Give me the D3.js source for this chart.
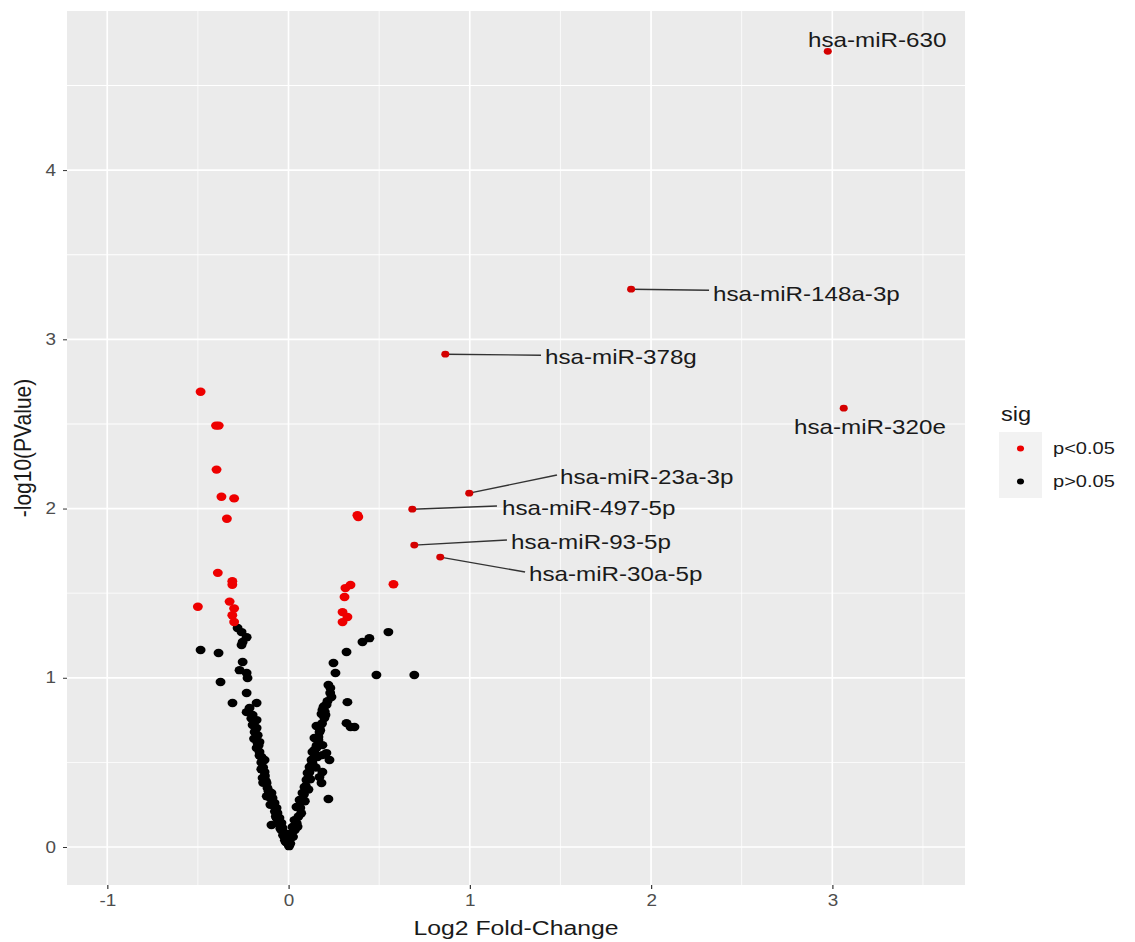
<!DOCTYPE html>
<html>
<head>
<meta charset="utf-8">
<style>
  body { margin: 0; background: #fff; }
  svg { display: block; font-family: "Liberation Sans", Arial, sans-serif; }
</style>
</head>
<body>
<script src="https://cdn.jsdelivr.net/npm/d3@7/dist/d3.min.js"></script>
<script>
// significant points (p<0.05)
var sigX = [-0.485,-0.40,-0.385,-0.397,-0.37,-0.30,-0.34,-0.39,-0.31,-0.31,-0.325,-0.50,-0.30,-0.31,-0.30,
            0.38,0.385,0.342,0.314,0.309,0.579,0.298,0.325,0.298];
var sigY = [2.69,2.49,2.49,2.23,2.07,2.06,1.94,1.62,1.57,1.55,1.45,1.42,1.41,1.37,1.33,
            1.96,1.95,1.548,1.530,1.477,1.553,1.388,1.359,1.329];

// non significant points (p>0.05)
var nsX = [0.551,0.446,0.408,0.320,0.248,0.259,0.485,0.694,0.220,0.231,0.237,0.215,0.193,0.325,0.182,0.198,
           0.320,0.342,0.364,0.154,0.171,0.171,0.143,0.165,0.187,0.154,0.132,0.209,0.226,0.127,0.116,0.105,
           0.099,0.088,0.077,0.061,0.044,0.033,0.022,0.017,0.006,0.171,0.182,0.220,0.187,0.187,0.143,0.160,
           0.132,0.204,0.187,0.198,0.12,0.09,0.05,0.15,0.07,0.11,
           0.01,0.025,0.035,0.045,0.055,0.065,0.075,0.085,0.095,0.105,0.115,0.125,0.135,0.145,0.155,0.165,
           0.175,0.185,0.20,0.21,0.23,
           -0.281,-0.259,-0.231,-0.253,-0.259,-0.485,-0.386,-0.253,-0.270,-0.231,-0.226,-0.375,-0.231,-0.309,
           -0.176,-0.215,-0.231,-0.198,-0.176,-0.198,-0.176,-0.187,-0.171,-0.176,-0.160,-0.149,-0.132,-0.132,
           -0.143,-0.121,-0.116,-0.094,-0.088,-0.077,-0.066,-0.061,-0.050,-0.039,-0.033,-0.022,-0.011,-0.006,
           0.003,-0.094,-0.15,-0.12,-0.07,-0.04,-0.02,-0.10,-0.14,-0.16,-0.19,
           -0.16,-0.15,-0.14,-0.13,-0.125,-0.11,-0.10,-0.085,-0.075,-0.065,-0.055,-0.045,-0.03,-0.015,
           -0.17,-0.18,-0.165,-0.205,-0.19];
var nsY = [1.270,1.234,1.211,1.152,1.087,1.028,1.016,1.016,0.957,0.939,0.886,0.862,0.827,0.856,0.786,0.762,
           0.732,0.709,0.709,0.715,0.709,0.679,0.644,0.632,0.602,0.585,0.561,0.555,0.514,0.514,0.473,0.437,
           0.396,0.354,0.319,0.278,0.236,0.159,0.118,0.083,0.041,0.413,0.378,0.284,0.443,0.543,0.573,0.532,
           0.496,0.780,0.809,0.833,0.40,0.27,0.12,0.47,0.20,0.34,
           0.02,0.06,0.10,0.14,0.18,0.23,0.27,0.31,0.36,0.40,0.44,0.48,0.52,0.55,0.60,0.65,
           0.69,0.73,0.80,0.84,0.91,
           1.294,1.270,1.240,1.211,1.193,1.164,1.146,1.093,1.045,1.028,0.998,0.975,0.910,0.851,
           0.851,0.821,0.797,0.780,0.750,0.721,0.703,0.679,0.614,0.585,0.561,0.532,0.514,0.443,
           0.408,0.378,0.348,0.319,0.289,0.260,0.230,0.201,0.171,0.142,0.112,0.083,0.053,0.024,
           0.005,0.130,0.46,0.30,0.18,0.10,0.04,0.25,0.38,0.62,0.64,
           0.54,0.50,0.47,0.42,0.39,0.33,0.29,0.25,0.21,0.17,0.14,0.11,0.07,0.03,
           0.66,0.70,0.60,0.76,0.74];

// labelled miRNAs
var labName = ["hsa-miR-630","hsa-miR-148a-3p","hsa-miR-378g","hsa-miR-320e",
               "hsa-miR-23a-3p","hsa-miR-497-5p","hsa-miR-93-5p","hsa-miR-30a-5p"];
var labX = [2.975,1.890,0.865,3.063,0.997,0.683,0.694,0.837];
var labY = [4.702,3.296,2.912,2.593,2.091,1.996,1.784,1.713];
// where the text sits (data units, left edge / middle)
var textX = [2.866,2.342,1.415,2.789,1.498,1.178,1.228,1.327];
var textY = [4.768,3.267,2.895,2.482,2.186,2.003,1.802,1.613];
// where the connecting segment ends (null = no segment)
var segX = [null,2.320,1.393,null,1.481,1.150,1.205,1.305];
var segY = [null,3.290,2.906,null,2.198,2.015,1.814,1.625];

var xTicks = [-1,0,1,2,3];
var yTicks = [0,1,2,3,4];
var xMinor = [-0.5,0.5,1.5,2.5,3.5];
var yMinor = [0.5,1.5,2.5,3.5,4.5];
var legendLabels = ["p<0.05","p>0.05"];
var legendColors = ["#ee0000","#000000"];

var width = 1135, height = 942;
var S = 1.18; // the picture is stretched horizontally
var vw = width / S;

var svg = d3.select("body").append("svg")
    .attr("width", width)
    .attr("height", height)
    .attr("viewBox", "0 0 " + vw + " " + height)
    .attr("preserveAspectRatio", "none");

var panel = {left: 67 / S, right: 965 / S, top: 11, bottom: 885};

var x = d3.scaleLinear().domain([-1.222, 3.732]).range([panel.left, panel.right]);
var y = d3.scaleLinear().domain([-0.2245, 4.94]).range([panel.bottom, panel.top]);

svg.append("rect")
    .attr("x", panel.left).attr("y", panel.top)
    .attr("width", panel.right - panel.left)
    .attr("height", panel.bottom - panel.top)
    .attr("fill", "#ebebeb");

// grid
svg.selectAll(".xminor").data(xMinor).enter().append("line")
    .attr("x1", d => x(d)).attr("x2", d => x(d))
    .attr("y1", panel.top).attr("y2", panel.bottom)
    .attr("stroke", "#fff").attr("stroke-width", 0.7);
svg.selectAll(".yminor").data(yMinor).enter().append("line")
    .attr("x1", panel.left).attr("x2", panel.right)
    .attr("y1", d => y(d)).attr("y2", d => y(d))
    .attr("stroke", "#fff").attr("stroke-width", 0.9);
svg.selectAll(".xmajor").data(xTicks).enter().append("line")
    .attr("x1", d => x(d)).attr("x2", d => x(d))
    .attr("y1", panel.top).attr("y2", panel.bottom)
    .attr("stroke", "#fff").attr("stroke-width", 1.4);
svg.selectAll(".ymajor").data(yTicks).enter().append("line")
    .attr("x1", panel.left).attr("x2", panel.right)
    .attr("y1", d => y(d)).attr("y2", d => y(d))
    .attr("stroke", "#fff").attr("stroke-width", 1.7);

// axes
var xAxis = svg.append("g")
    .attr("transform", "translate(0," + panel.bottom + ")")
    .call(d3.axisBottom(x).tickValues(xTicks).tickSize(4).tickPadding(6).tickFormat(d => String(d)));
var yAxis = svg.append("g")
    .attr("transform", "translate(" + panel.left + ",0)")
    .call(d3.axisLeft(y).tickValues(yTicks).tickSize(4 / S).tickPadding(6).tickFormat(d => String(d)));
[xAxis, yAxis].forEach(function(g) {
  g.select(".domain").remove();
  g.selectAll(".tick line").attr("stroke", "#333").attr("stroke-width", 1);
  g.selectAll(".tick text").attr("fill", "#4d4d4d").attr("font-size", "16px")
    .attr("font-family", "'Liberation Sans', Arial, sans-serif");
});

// points
var ns = nsX.map((d, i) => [d, nsY[i]]);
var sg = sigX.map((d, i) => [d, sigY[i]]);

svg.selectAll(".ns").data(ns).enter().append("circle")
    .attr("cx", d => x(d[0])).attr("cy", d => y(d[1])).attr("r", 4.2)
    .attr("fill", "#000");
svg.selectAll(".sg").data(sg).enter().append("circle")
    .attr("cx", d => x(d[0])).attr("cy", d => y(d[1])).attr("r", 4.2)
    .attr("fill", "#ee0000");

// label segments
svg.selectAll(".seg").data(labName).enter().filter((d, i) => segX[i] !== null).append("line")
    .attr("x1", d => x(labX[labName.indexOf(d)]))
    .attr("y1", d => y(labY[labName.indexOf(d)]))
    .attr("x2", d => x(segX[labName.indexOf(d)]))
    .attr("y2", d => y(segY[labName.indexOf(d)]))
    .attr("stroke", "#333").attr("stroke-width", 1.4);

svg.selectAll(".lp").data(labName).enter().append("circle")
    .attr("cx", (d, i) => x(labX[i])).attr("cy", (d, i) => y(labY[i])).attr("r", 3.4)
    .attr("fill", "#d40000");

svg.selectAll(".lt").data(labName).enter().append("text")
    .attr("x", (d, i) => x(textX[i])).attr("y", (d, i) => y(textY[i]))
    .attr("dy", "0.35em")
    .attr("font-size", "20.5px").attr("fill", "#1a1a1a")
    .text(d => d);

// axis titles
svg.append("text")
    .attr("x", (panel.left + panel.right) / 2).attr("y", 935)
    .attr("text-anchor", "middle").attr("font-size", "21px").attr("fill", "#1a1a1a")
    .text("Log2 Fold-Change");
svg.append("text")
    .attr("transform", "translate(" + (31 / S) + "," + ((panel.top + panel.bottom) / 2) + ") rotate(-90)")
    .attr("text-anchor", "middle").attr("font-size", "21px").attr("fill", "#1a1a1a")
    .text("-log10(PValue)");

// legend
var lg = svg.append("g");
lg.append("text").attr("x", 1001 / S).attr("y", 421)
    .attr("font-size", "20px").attr("fill", "#1a1a1a").text("sig");
var keys = lg.selectAll(".key").data(legendLabels).enter().append("g")
    .attr("transform", (d, i) => "translate(" + (999 / S) + "," + (432 + i * 33) + ")");
keys.append("rect").attr("width", 43 / S).attr("height", 33).attr("fill", "#f2f2f2");
keys.append("circle").attr("cx", 21.5 / S).attr("cy", 16.5).attr("r", 3)
    .attr("fill", (d, i) => legendColors[i]);
keys.append("text").attr("x", 54 / S).attr("y", 16.5).attr("dy", "0.35em")
    .attr("font-size", "17px").attr("fill", "#1a1a1a").text(d => d);
</script>
</body>
</html>
